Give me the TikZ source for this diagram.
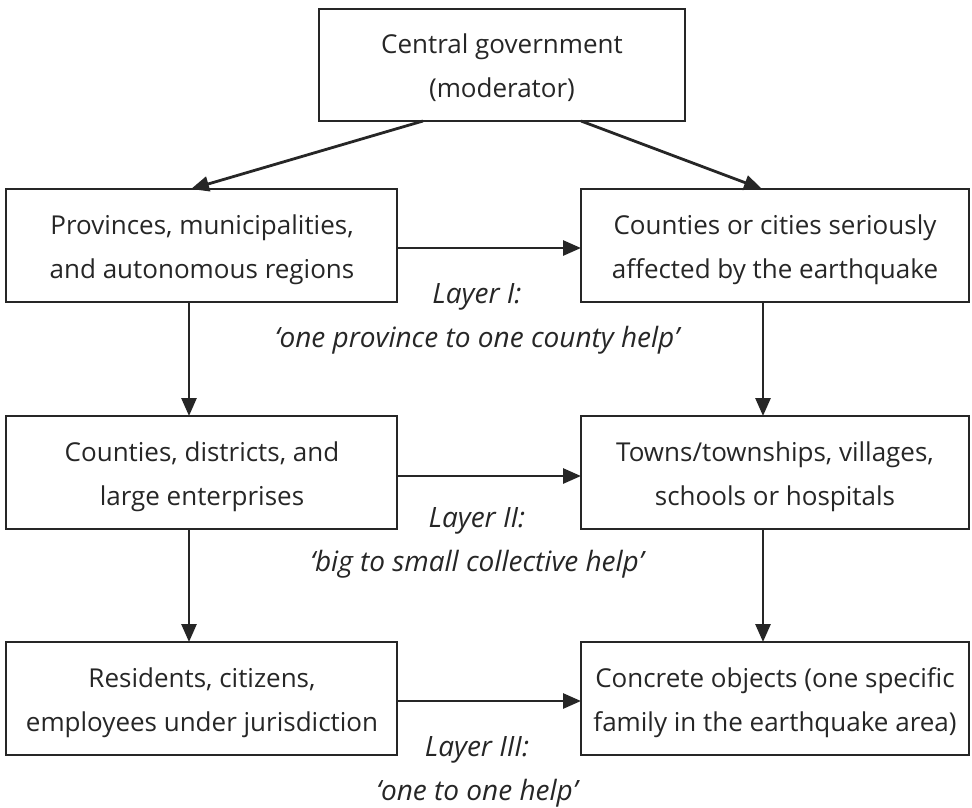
\documentclass[tikz,border=0pt]{standalone}
\usepackage{fontspec}
\setmainfont{Open Sans}
\usetikzlibrary{arrows.meta}
\definecolor{ink}{HTML}{262626}
\begin{document}
\begin{tikzpicture}[x=1pt,y=-1pt,
  boxst/.style={draw=ink,line width=2.2pt},
  arr/.style={draw=ink,line width=2.8pt,-{Triangle[length=18pt,width=15pt]}},
  txt/.style={anchor=base,text=ink,font=\fontsize{26}{30}\selectfont,inner sep=0pt},
  lbl/.style={anchor=base,text=ink,font=\fontsize{28}{32}\selectfont\itshape,inner sep=0pt}]
\useasboundingbox (0,0) rectangle (972,807);
% boxes
\draw[boxst] (319,9) rectangle (685,121);
\coordinate (tl) at (423,121); \coordinate (tr) at (581,121);
\draw[boxst] (6,189) rectangle (397,302);
\draw[boxst] (581,189) rectangle (969,302);
\draw[boxst] (6,416) rectangle (397,529);
\draw[boxst] (581,416) rectangle (969,529);
\draw[boxst] (6,642) rectangle (397,755);
\draw[boxst] (581,642) rectangle (969,755);
% anchor coordinates
\coordinate (aL) at (191,189); \coordinate (aR) at (762,189);
\coordinate (l1b) at (189,302); \coordinate (l2t) at (189,416);
\coordinate (l2b) at (189,529); \coordinate (l3t) at (189,642);
\coordinate (r1b) at (763,302); \coordinate (r2t) at (763,416);
\coordinate (r2b) at (763,529); \coordinate (r3t) at (763,642);
\coordinate (h1a) at (397,248); \coordinate (h1b) at (581,248);
\coordinate (h2a) at (397,476); \coordinate (h2b) at (581,476);
\coordinate (h3a) at (397,701); \coordinate (h3b) at (581,701);
% arrows
\draw[arr] (tl) -- (aL);
\draw[arr] (tr) -- (aR);
\draw[arr] (l1b) -- (l2t);
\draw[arr] (l2b) -- (l3t);
\draw[arr] (r1b) -- (r2t);
\draw[arr] (r2b) -- (r3t);
\draw[arr] (h1a) -- (h1b);
\draw[arr] (h2a) -- (h2b);
\draw[arr] (h3a) -- (h3b);
% texts
\node[txt] (t0a) at (502,53) {Central government};
\node[txt] (t0b) at (502,97) {(moderator)};
\node[txt] (t1a) at (202,234) {Provinces, municipalities,};
\node[txt] (t1b) at (202,278) {and autonomous regions};
\node[txt] (t2a) at (775,234) {Counties or cities seriously};
\node[txt] (t2b) at (775,278) {affected by the earthquake};
\node[txt] (t3a) at (202,461) {Counties, districts, and};
\node[txt] (t3b) at (202,505) {large enterprises};
\node[txt] (t4a) at (775,461) {Towns/townships, villages,};
\node[txt] (t4b) at (775,505) {schools or hospitals};
\node[txt] (t5a) at (202,687) {Residents, citizens,};
\node[txt] (t5b) at (202,731) {employees under jurisdiction};
\node[txt] (t6a) at (775,687) {Concrete objects (one specific};
\node[txt] (t6b) at (775,731) {family in the earthquake area)};
% layer labels
\node[lbl] (L1a) at (477,303) {Layer I:};
\node[lbl] (L1b) at (477,347) {‘one province to one county help’};
\node[lbl] (L2a) at (477,527) {Layer II:};
\node[lbl] (L2b) at (477,571) {‘big to small collective help’};
\node[lbl] (L3a) at (477,756) {Layer III:};
\node[lbl] (L3b) at (477,800) {‘one to one help’};
\end{tikzpicture}
\end{document}
